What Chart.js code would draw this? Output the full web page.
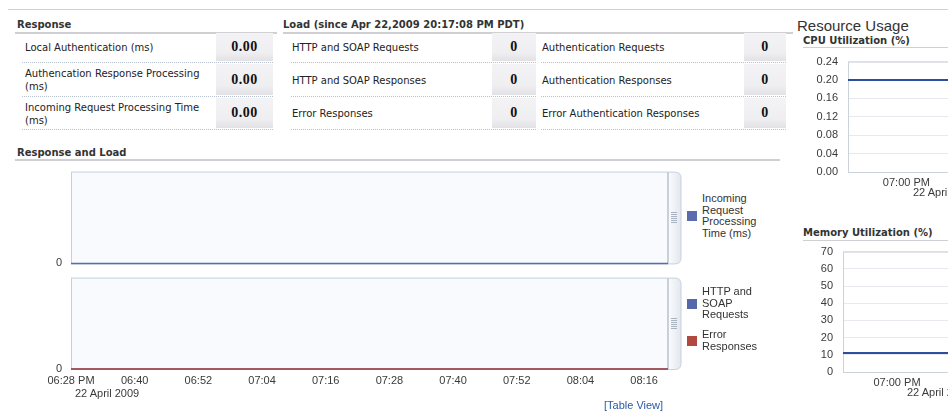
<!DOCTYPE html>
<html>
<head>
<meta charset="utf-8">
<script src="https://cdn.jsdelivr.net/npm/chart.js@4.4.1/dist/chart.umd.min.js"></script>
<style>
  html, body { margin: 0; padding: 0; background: #fff; }
  #page { position: relative; width: 948px; height: 411px; overflow: hidden; font-family: "DejaVu Sans", sans-serif; color: #222; }
  .hd { position: absolute; font: bold 10px "DejaVu Sans", sans-serif; color: #333; line-height: 12px; white-space: nowrap; }
  .rule { position: absolute; height: 2px; background: #d0d0d4; }
  .row { position: absolute; display: flex; align-items: center; border-bottom: 1px dotted #b6bfcc; box-sizing: border-box; }
  .lbl { font: 10px "DejaVu Sans", sans-serif; color: #222; line-height: 13px; }
  .val { position: absolute; top: 0; bottom: 1px; display: flex; align-items: center; justify-content: center;
         background: linear-gradient(#f3f2f5, #efeef1 70%, #e2e1e5); font: bold 14px "Liberation Serif", serif; color: #111; letter-spacing: 0.5px; }
  canvas { position: absolute; }
  .legend { position: absolute; width: 80px; font: 11px "Liberation Sans", Arial, sans-serif; color: #333; line-height: 11.7px; }
  .lg-item { display: flex; align-items: center; margin-bottom: 8px; }
  .lg-item .sw { width: 10px; height: 10px; flex: none; margin-right: 5px; }
  .lg-item .tx { width: 62px; }
  .date { position: absolute; font: 11px "Liberation Sans", Arial, sans-serif; color: #3a3a3a; line-height: 12px; white-space: nowrap; }
</style>
</head>
<body>
<div id="page">
  <div style="position:absolute;left:8px;top:9px;width:940px;height:1px;background:#c9d3df"></div>

  <div class="hd" style="left:17px;top:19px">Response</div>
  <div class="rule" style="left:15px;top:32px;width:262px"></div>

  <div class="hd" style="left:283px;top:19px">Load (since Apr 22,2009 20:17:08 PM PDT)</div>
  <div class="rule" style="left:283px;top:32px;width:510px"></div>

  <div style="position:absolute;left:797px;top:17px;font:15px 'Liberation Sans',Arial,sans-serif;color:#333;white-space:nowrap">Resource Usage</div>
  <div class="hd" style="left:803px;top:35px">CPU Utilization (%)</div>
  <div class="rule" style="left:803px;top:47px;width:150px;height:1px"></div>
  <div class="hd" style="left:803px;top:227px">Memory Utilization (%)</div>
  <div class="rule" style="left:803px;top:240px;width:150px;height:1px"></div>

  <div class="hd" style="left:17px;top:147px">Response and Load</div>
  <div class="rule" style="left:15px;top:159px;width:765px"></div>

  <div id="tables"></div>

  <canvas id="respChart" width="684" height="123" style="left:0;top:156px"></canvas>
  <canvas id="loadChart" width="684" height="138" style="left:0;top:262px"></canvas>
  <canvas id="cpuChart" width="360" height="157" style="left:780px;top:45px"></canvas>
  <canvas id="memChart" width="360" height="167" style="left:780px;top:235px"></canvas>

  <div id="respLegend" class="legend" style="left:687px;top:193px"></div>
  <div id="loadLegend" class="legend" style="left:687px;top:286px"></div>

  <div style="position:absolute;left:604px;top:399px;font:11px 'Liberation Sans',Arial,sans-serif;color:#2a5aa8">[Table View]</div>
</div>

<script>
// summary tables
const responseLabels = ['Local Authentication (ms)', 'Authencation Response Processing (ms)', 'Incoming Request Processing Time (ms)'];
const responseValues = ['0.00', '0.00', '0.00'];
const loadLabelsLeft = ['HTTP and SOAP Requests', 'HTTP and SOAP Responses', 'Error Responses'];
const loadValuesLeft = [0, 0, 0];
const loadLabelsRight = ['Authentication Requests', 'Authentication Responses', 'Error Authentication Responses'];
const loadValuesRight = [0, 0, 0];

// response & load charts (minutes after 06:28 PM)
const timeTickLabels = ['06:28 PM', '06:40', '06:52', '07:04', '07:16', '07:28', '07:40', '07:52', '08:04', '08:16'];
const sampleMinutes = [0, 12, 24, 36, 48, 60, 72, 84, 96, 108, 112.5];
const incomingProcessingMs = [0, 0, 0, 0, 0, 0, 0, 0, 0, 0, 0];
const httpSoapRequests = [0, 0, 0, 0, 0, 0, 0, 0, 0, 0, 0];
const errorResponses = [0, 0, 0, 0, 0, 0, 0, 0, 0, 0, 0];

// resource usage (minutes after 06:00 PM)
const cpuMinutes = [46, 60, 72, 84, 96, 108, 116];
const cpuPercent = [0.20, 0.20, 0.20, 0.20, 0.20, 0.20, 0.20];
const memMinutes = [48, 60, 72, 84, 96, 108, 114];
const memPercent = [11, 11, 11, 11, 11, 11, 11];

const rowGeom = [[33, 30], [64, 33], [98, 32]];

function buildTable(left, width, labelPad, cellLeft, cellWidth, labels, values) {
  const host = document.getElementById('tables');
  labels.forEach((txt, i) => {
    const row = document.createElement('div');
    row.className = 'row';
    row.style.left = left + 'px';
    row.style.top = rowGeom[i][0] + 'px';
    row.style.width = width + 'px';
    row.style.height = rowGeom[i][1] + 'px';
    const lbl = document.createElement('div');
    lbl.className = 'lbl';
    lbl.style.paddingLeft = labelPad + 'px';
    lbl.style.width = (cellLeft - labelPad - 6) + 'px';
    lbl.textContent = txt;
    const val = document.createElement('div');
    val.className = 'val';
    val.style.left = cellLeft + 'px';
    val.style.width = cellWidth + 'px';
    val.textContent = values[i];
    row.appendChild(lbl); row.appendChild(val);
    host.appendChild(row);
  });
}
buildTable(22, 251, 3, 194, 57, responseLabels, responseValues);
buildTable(291, 245, 1, 201, 44, loadLabelsLeft, loadValuesLeft);
buildTable(541, 245, 1, 203, 42, loadLabelsRight, loadValuesRight);

const pts = (xs, ys) => xs.map((x, i) => ({ x, y: ys[i] }));

const plotFrame = {
  id: 'plotFrame',
  beforeDraw(chart, args, o) {
    const a = chart.chartArea, ctx = chart.ctx;
    ctx.save();
    ctx.fillStyle = o.bg || '#fff';
    ctx.fillRect(a.left, a.top, a.right - a.left, a.bottom - a.top);
    ctx.restore();
  },
  beforeDatasetsDraw(chart, args, o) {
    const a = chart.chartArea, ctx = chart.ctx;
    ctx.save();
    ctx.strokeStyle = o.border || '#ccd3dc';
    ctx.lineWidth = 1;
    ctx.strokeRect(a.left + 0.5, a.top + 0.5, a.right - a.left - 1, a.bottom - a.top);
    ctx.restore();
  },
  afterDraw(chart, args, o) {
    if (!o.scrollbar) return;
    const a = chart.chartArea, ctx = chart.ctx;
    const x0 = a.right, x1 = a.right + 13, y0 = a.top + 0.5, y1 = a.bottom + 0.5, r = 6;
    ctx.save();
    const g = ctx.createLinearGradient(x0, 0, x1, 0);
    g.addColorStop(0, '#fbfcfd'); g.addColorStop(1, '#e2e7ee');
    ctx.beginPath();
    ctx.moveTo(x0, y0);
    ctx.lineTo(x1 - r, y0);
    ctx.quadraticCurveTo(x1, y0, x1, y0 + r);
    ctx.lineTo(x1, y1 - r);
    ctx.quadraticCurveTo(x1, y1, x1 - r, y1);
    ctx.lineTo(x0, y1);
    ctx.fillStyle = g; ctx.fill();
    ctx.strokeStyle = '#c8d1dc'; ctx.lineWidth = 1; ctx.stroke();
    ctx.beginPath(); ctx.moveTo(x0 + 0.5, y0); ctx.lineTo(x0 + 0.5, y1); ctx.stroke();
    const cy = Math.round((a.top + a.bottom) / 2);
    ctx.fillStyle = '#a9b2be';
    for (let k = -2; k <= 3; k++) ctx.fillRect(x0 + 3, cy + k * 2 - 1, 6, 1);
    ctx.restore();
  }
};

// date line under the first time tick, placed from the chart's x scale
function addDateLabel(chart, value, dx, dy, text) {
  const s = chart.scales.x, c = chart.canvas;
  const d = document.createElement('div');
  d.className = 'date';
  d.textContent = text;
  d.style.left = Math.round(c.offsetLeft + s.getPixelForValue(value) + dx) + 'px';
  d.style.top = Math.round(c.offsetTop + s.top + dy - 6) + 'px';
  document.getElementById('page').appendChild(d);
}

const tickFont = { family: '"Liberation Sans", Arial, sans-serif', size: 11 };

function timeSeriesChart(id, datasets, opts) {
  return new Chart(document.getElementById(id), {
    type: 'line',
    data: { datasets },
    plugins: [plotFrame],
    options: {
      responsive: false, animation: false,
      layout: { padding: { left: 0, right: 16, top: opts.padTop, bottom: 0 } },
      plugins: {
        legend: { display: false }, tooltip: { enabled: false },
        plotFrame: { bg: '#f9fafd', border: '#c6d0dc', scrollbar: true }
      },
      scales: {
        x: {
          type: 'linear', min: 0, max: 112.5,
          grid: { display: false, drawTicks: false }, border: { display: false },
          afterFit: s => { s.height = opts.xHeight; },
          ticks: {
            display: opts.showX, stepSize: 12, includeBounds: false, autoSkip: false, maxRotation: 0,
            padding: 5, color: '#3a3a3a', font: tickFont,
            callback: v => timeTickLabels[Math.round(v / 12)] || ''
          }
        },
        y: {
          min: 0, max: 1,
          grid: { display: false, drawTicks: false }, border: { display: false },
          afterFit: s => { s.width = 71; },
          ticks: { stepSize: 1, padding: 9, color: '#3a3a3a', font: tickFont, callback: v => (v === 0 ? '0' : '') }
        }
      }
    }
  });
}

const respChart = timeSeriesChart('respChart', [
  { label: 'Incoming Request Processing Time (ms)', data: pts(sampleMinutes, incomingProcessingMs),
    borderColor: '#5a6cae', borderWidth: 1.5, pointRadius: 0, clip: false }
], { padTop: 12, xHeight: 8, showX: false });

const loadChart = timeSeriesChart('loadChart', [
  { label: 'HTTP and SOAP Requests', data: pts(sampleMinutes, httpSoapRequests),
    borderColor: '#5468ab', borderWidth: 1.5, pointRadius: 0, clip: false, order: 1 },
  { label: 'Error Responses', data: pts(sampleMinutes, errorResponses),
    borderColor: '#b0493f', borderWidth: 1.5, pointRadius: 0, clip: false, order: 0 }
], { padTop: 8, xHeight: 31, showX: true });
addDateLabel(loadChart, 0, 4, 24, '22 April 2009');

function buildLegend(elId, chart) {
  const el = document.getElementById(elId);
  chart.data.datasets.forEach(ds => {
    const item = document.createElement('div');
    item.className = 'lg-item';
    const sw = document.createElement('span');
    sw.className = 'sw'; sw.style.background = ds.borderColor;
    const tx = document.createElement('span');
    tx.className = 'tx'; tx.textContent = ds.label;
    item.appendChild(sw); item.appendChild(tx);
    el.appendChild(item);
  });
}
buildLegend('respLegend', respChart);
buildLegend('loadLegend', loadChart);

function usageChart(id, xs, ys, o) {
  return new Chart(document.getElementById(id), {
    type: 'line',
    data: { datasets: [{ label: o.label, data: pts(xs, ys), borderColor: '#2b4f9e', borderWidth: 2, pointRadius: 0 }] },
    plugins: [plotFrame],
    options: {
      responsive: false, animation: false,
      layout: { padding: { left: 0, right: 0, top: 10, bottom: 0 } },
      plugins: {
        legend: { display: false }, tooltip: { enabled: false },
        plotFrame: { bg: '#ffffff', border: '#cdd3da', scrollbar: false }
      },
      scales: {
        x: {
          type: 'linear', min: o.xMin, max: o.xMax,
          grid: { display: false, drawTicks: false }, border: { display: false },
          afterFit: s => { s.height = 30; },
          ticks: { stepSize: 60, includeBounds: false, autoSkip: false, maxRotation: 0, padding: 4,
                   color: '#3a3a3a', font: tickFont, callback: v => (v === 60 ? '07:00 PM' : '') }
        },
        y: {
          min: 0, max: o.yMax,
          grid: { color: '#e6e9ed', drawTicks: false }, border: { display: false },
          afterFit: s => { s.width = o.yWidth; },
          ticks: { stepSize: o.yStep, padding: 10, color: '#3a3a3a', font: tickFont,
                   callback: v => v.toFixed(o.decimals) }
        }
      }
    }
  });
}

const cpuChart = usageChart('cpuChart', cpuMinutes, cpuPercent,
  { label: 'CPU Utilization (%)', xMin: 46, xMax: 116, yMax: 0.24, yStep: 0.04, decimals: 2, yWidth: 68 });
addDateLabel(cpuChart, 60, 7, 20, '22 April 2009');
const memChart = usageChart('memChart', memMinutes, memPercent,
  { label: 'Memory Utilization (%)', xMin: 48, xMax: 114, yMax: 70, yStep: 10, decimals: 0, yWidth: 63 });
addDateLabel(memChart, 60, 10, 20, '22 April 2009');
</script>
</body>
</html>
